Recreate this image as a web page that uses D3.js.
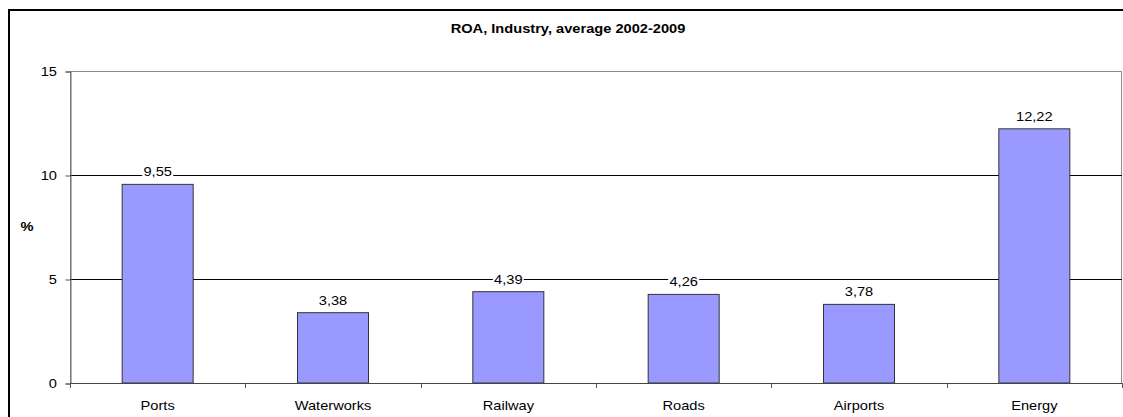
<!DOCTYPE html>
<html>
<head>
<meta charset="utf-8">
<script src="https://cdn.jsdelivr.net/npm/d3@7"></script>
<style>
  html, body { margin: 0; padding: 0; background: #fff; }
  svg { display: block; font-family: Arial, "Liberation Sans", sans-serif; }
</style>
</head>
<body>
<svg id="chart" width="1123" height="417"></svg>
<script>
// ROA by industry, 2002-2009 average
const categories = ["Ports", "Waterworks", "Railway", "Roads", "Airports", "Energy"];
const roaValues = [9.55, 3.38, 4.39, 4.26, 3.78, 12.22];
const yTicks = [0, 5, 10, 15];
const titleText = "ROA, Industry, average 2002-2009";
const yAxisLabel = "%";

const svg = d3.select("#chart");
const plot = { left: 70, top: 71, right: 1122, bottom: 383 };
const FS = 12;        // font size
const SX = 1.22;      // horizontal text stretch of the chart

// places a horizontally stretched text at (x, y)
function stretchedText(parent, x, y, str, opts = {}) {
  return parent.append("text")
    .attr("transform", `translate(${x},${y}) scale(${SX},1)`)
    .attr("text-anchor", opts.anchor || "middle")
    .attr("font-size", FS)
    .attr("font-weight", opts.bold ? "bold" : "normal")
    .attr("fill", "#000")
    .text(str);
}

// outer chart frame
svg.append("rect")
  .attr("x", 9).attr("y", 10)
  .attr("width", 1140).attr("height", 440)
  .attr("fill", "#fff").attr("stroke", "#000").attr("stroke-width", 2);

const x = d3.scaleBand().domain(categories).range([plot.left, plot.right]).paddingInner(0).paddingOuter(0);
const y = d3.scaleLinear().domain([0, 15]).range([plot.bottom, plot.top]);

// plot area border
svg.append("rect")
  .attr("x", plot.left + 0.5).attr("y", plot.top + 0.5)
  .attr("width", plot.right - plot.left - 1).attr("height", plot.bottom - plot.top)
  .attr("fill", "none").attr("stroke", "#8c8c8c").attr("stroke-width", 1);

// horizontal gridlines
svg.append("g").selectAll("line")
  .data(yTicks.filter(t => t > 0 && t < 15))
  .join("line")
  .attr("x1", plot.left).attr("x2", plot.right)
  .attr("y1", d => Math.round(y(d)) + 0.5).attr("y2", d => Math.round(y(d)) + 0.5)
  .attr("stroke", "#000").attr("stroke-width", 1);

// y axis
const yAxis = d3.axisLeft(y).tickValues(yTicks).tickSize(5).tickFormat("");
const gy = svg.append("g").attr("transform", `translate(${plot.left + 0.5},0.5)`).call(yAxis);
gy.select(".domain").attr("stroke", "#666");
gy.selectAll(".tick line").attr("stroke", "#555");
yTicks.forEach(t => {
  stretchedText(svg, plot.left - 13, y(t) + 4.5, d3.format("d")(t), { anchor: "end" });
});

// bars
const barW = 71;
svg.append("g").selectAll("rect")
  .data(categories.map((c, i) => ({ c, v: roaValues[i] })))
  .join("rect")
  .attr("x", d => x(d.c) + x.bandwidth() / 2 - barW / 2)
  .attr("y", d => y(d.v))
  .attr("width", barW)
  .attr("height", d => y(0) - y(d.v))
  .attr("fill", "#9999ff")
  .attr("stroke", "#333")
  .attr("stroke-width", 1);

// x axis
const xTickPositions = d3.range(categories.length + 1).map(i => plot.left + i * x.bandwidth());
const gx = svg.append("g");
gx.append("line")
  .attr("x1", plot.left).attr("x2", plot.right)
  .attr("y1", plot.bottom + 0.5).attr("y2", plot.bottom + 0.5)
  .attr("stroke", "#444").attr("stroke-width", 1);
gx.selectAll("line.tk").data(xTickPositions).join("line").attr("class", "tk")
  .attr("x1", d => Math.round(d) + 0.5).attr("x2", d => Math.round(d) + 0.5)
  .attr("y1", plot.bottom).attr("y2", plot.bottom + 5)
  .attr("stroke", "#555");
categories.forEach(c => {
  stretchedText(gx, x(c) + x.bandwidth() / 2, 410, c);
});

// value labels with white backing
const fmt = v => d3.format(".2f")(v).replace(".", ",");
categories.forEach((c, i) => {
  const g = svg.append("g");
  const cx = x(c) + x.bandwidth() / 2;
  const by = y(roaValues[i]) - 8;
  const t = stretchedText(g, cx, by, fmt(roaValues[i]));
  const bb = t.node().getBBox();
  g.insert("rect", "text")
    .attr("x", cx + (bb.x - 1) * SX).attr("y", by + bb.y)
    .attr("width", (bb.width + 2) * SX).attr("height", bb.height)
    .attr("fill", "#fff");
});

// title
stretchedText(svg, 568, 33, titleText, { bold: true });

// y axis label
stretchedText(svg, 27, 231, yAxisLabel, { bold: true });
</script>
</body>
</html>
